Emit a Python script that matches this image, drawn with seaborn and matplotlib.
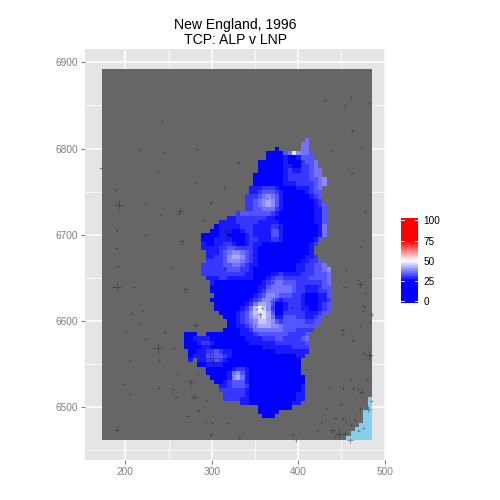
import numpy as np
import matplotlib
matplotlib.use("Agg")
import matplotlib.pyplot as plt
from matplotlib.colors import LinearSegmentedColormap, ListedColormap
from matplotlib.transforms import Affine2D
import seaborn as sns

title = "New England, 1996\nTCP: ALP v LNP"
x_ticks = [200, 300, 400, 500]
x_minor = [250, 350, 450]
y_ticks = [6500, 6600, 6700, 6800, 6900]
y_minor = [6450, 6550, 6650, 6750, 6850]
legend_ticks = [0, 25, 50, 75, 100]

# Swing grid: first column of each row and one digit per 5 km cell, '.' = no data
first_row = 16
row_start = [47, 46, 40, 38, 38, 36, 36, 36, 35, 35, 35, 34, 34, 33, 33, 33, 33, 31, 29, 27, 26, 25,
             23, 23, 23, 23, 24, 24, 24, 23, 23, 23, 24, 25, 25, 25, 26, 25, 26, 26, 27, 28, 29, 29,
             28, 19, 19, 19, 19, 20, 20, 20, 22, 24, 24, 25, 26, 27, 27, 28, 28, 32, 36, 36, 37]
row_cells = [
    "4", "44", "0.....44", "00003485443", "00001001333",
    "00000010002334", "00000011002234", "000000121122344",
    "0000000122222344", "00000001222223345", "00000001112222345",
    "11122210000111234", "11233321000001233",
    "222345431000000123", "223456531000000012",
    "2234565310000000123", "2233444210000000113",
    "233333332100000000113", "11222222211000000000113",
    "1111222221111100000000113", "01111122211112210000000014",
    "001110012211113310000000014", "00001100001211113310000000014",
    "0001111000122111221000000013", "100112210012110000000000012",
    "11112233222210000000000001", "1112345543210000000000001",
    "11223566532100000000000112", "222235554321000000000011223",
    "22222334432110000000001122334", "222222333221000000000011223345",
    "222222222211000011211112223334", "11122111111000123322222233334",
    "1000000000001234433322222234", "0000000000011344444322111233",
    "0000000000012444444322111223", "000000000123554333221000113",
    "0000000001235542122221000112", "000000012466530012221000123",
    "000000124797520012221100123", "0000123578863002222211123",
    "00012356786411333221123", "0012345776532333332233",
    "001123566655433333333", "000011244444443332222",
    "000..000000001112333333322223",
    "00111100000000111122233222234", "00012210000000011111122222223",
    "00001100000000000011111112222", "0011223211000000000011111111",
    "011133332100000000000000011", "1.112232100000000000000000",
    "001111000000000000000000", "0000001221000000000000",
    "0000014531000000000000", "0000156410000000000000",
    "001233310000000000000", "11233320000000000001",
    "22222210000000000001", "2222210000000000011",
    "2222110000000000011", "11000000000011",
    "00000000", "00000", "000",
]

# Sea cells at the south-east corner: row number and first sea column
sea_rows = [76, 77, 78, 79, 80, 81, 82, 83, 84, 85]
sea_start = [62, 62, 62, 61, 61, 61, 60, 59, 58, 57]

# Polling places
town_x = [242.5, 217, 245, 282.6, 171.5, 237.8, 280.3, 314.2, 188.9, 193, 222.8, 298.8, 263.3, 260.6, 241,
          289.9, 190, 223.6, 265.3, 190, 316.9, 317.7, 191.2, 253.7, 190, 209.3, 269.4, 207.4, 219, 216.2,
          281.5, 200.5, 245.6, 223.6, 237.5, 256, 239, 205.4, 259.5, 283.8, 275.7, 197, 238.6, 254.8, 205.4,
          258.3, 279.5, 293.4, 284.1, 272.2, 293.7, 190, 430.7, 461.1, 454.2, 481.6, 462.6, 437.6, 472.4,
          461.9, 477.3, 472.4, 455, 468.9, 471.6, 453.8, 477, 475.8, 474.7, 485.1, 482.8, 471.2, 451.5, 463.4,
          475, 482, 483.1, 451.5, 473.5, 449.6, 471.6, 481.2, 484.6, 479.3, 461.1, 463.1, 452.2, 468.9, 436,
          431.9, 442.3, 452.2, 465.8, 461.1, 455, 469.6, 475.4, 439.5, 447.6, 454.2, 421.8, 426.4, 442.6, 460,
          393.7, 397.2, 300, 317.3, 331.9, 298.8, 371.2, 355.3, 364.3, 301.8, 298, 301.8, 313.4, 301.1, 292.6,
          320, 347.4, 377, 357.8, 352, 350, 393.2, 407.1, 370.1, 424.5, 323.1, 339.7, 274, 293.4, 305.8, 323.1,
          320.3, 363.9, 387.9, 388.6, 376.7, 330.7, 385.9, 326.9, 375.9, 370.1, 371.2, 314.2, 403.3, 330.7]
town_y = [6831.6, 6799.4, 6795.6, 6799.4, 6777.4, 6773.9, 6761.1, 6755, 6751.9, 6734.5, 6735.3, 6737.6, 6727.5,
          6724, 6722.9, 6716.7, 6705.5, 6699.7, 6692.4, 6684.6, 6704, 6695.8, 6663.7, 6661.4, 6639.7, 6639.4,
          6636.7, 6609.2, 6611.5, 6597.6, 6595, 6587.1, 6587.1, 6579, 6568.2, 6568.6, 6554.3, 6554.7, 6538.4,
          6538.4, 6528.8, 6526.8, 6522.5, 6521, 6515.2, 6511.7, 6511.7, 6508, 6496.3, 6489.7, 6482.7, 6473.8,
          6855.9, 6859.4, 6850.1, 6852.8, 6821.1, 6798.3, 6800.6, 6771.6, 6727.2, 6685.7, 6659.1, 6647.5, 6642.5,
          6639.3, 6632.4, 6617.3, 6611.5, 6607.7, 6598.8, 6594.1, 6589.5, 6577.5, 6562.8, 6560.5, 6559.3, 6584.9,
          6517.9, 6503.3, 6498.6, 6497.8, 6507.4, 6532.6, 6532.6, 6521.8, 6521.8, 6521, 6523.7, 6499, 6487.4,
          6487, 6485, 6479.3, 6482.8, 6472.7, 6476.1, 6473.1, 6469.2, 6469.6, 6472.3, 6482.4, 6465.7, 6461.5,
          6468.5, 6461.5, 6481.3, 6481.3, 6465, 6468.5, 6622.8, 6607.7, 6570.9, 6556.6, 6560.4, 6552.7, 6562.4,
          6568.2, 6544.2, 6544.2, 6535, 6511.4, 6614.7, 6613.8, 6594, 6615.8, 6622.8, 6645.5, 6640.5, 6581,
          6570.9, 6573.2, 6574, 6540, 6535.3, 6517.2, 6741.1, 6742.2, 6727.9, 6708.6, 6700.8, 6704.3, 6683.4,
          6686.9, 6677.3, 6655.2, 6661, 6784, 6784]
large = {9: 3, 20: 3, 24: 3, 34: 3, 75: 3, 98: 3, 110: 3, 113: 3,
         12: 2, 18: 2, 26: 2, 30: 2, 40: 2, 46: 2, 51: 2, 64: 2, 78: 2, 81: 2, 97: 2, 103: 2,
         111: 2, 112: 2, 114: 2, 115: 2, 139: 2, 145: 2, 147: 2}
town_votes = [large.get(i, 1) for i in range(len(town_x))]

sns.set_theme(style="darkgrid", rc={
    "axes.facecolor": "#E5E5E5", "grid.color": "white",
    "xtick.color": "#7F7F7F", "ytick.color": "#7F7F7F",
})
plt.rcParams["font.family"] = ["Liberation Sans", "DejaVu Sans"]

n_rows, n_cols = 86, 63
land = np.zeros((n_rows, n_cols))
for r, c in zip(sea_rows, sea_start):
    land[r, c:] = 1

swing = np.full((n_rows, n_cols), np.nan)
for i, (c0, cells) in enumerate(zip(row_start, row_cells)):
    for j, ch in enumerate(cells):
        if ch != ".":
            swing[first_row + i, c0 + j] = 25 + int(ch) * 25 / 9

low, high = -2.5, 102.5
pos = lambda v: (v - low) / (high - low)
cmap = LinearSegmentedColormap.from_list("swing", [
    (0, "blue"), (pos(25), "blue"), (pos(50), "white"), (pos(75), "red"), (1, "red")])

fig = plt.figure(figsize=(5, 5), dpi=100)
ax = fig.add_axes([85 / 500, 40 / 500, 301 / 500, 411.5 / 500])
cax = fig.add_axes([401 / 500, (500 - 303.3) / 500, 17.3 / 500, 85 / 500])

land_tf = Affine2D().scale(4.96, -5).translate(173, 6892) + ax.transData
sns.heatmap(land, ax=ax, cmap=ListedColormap(["#666666", "#87CEEB"]), vmin=0, vmax=1, cbar=False,
            xticklabels=False, yticklabels=False, transform=land_tf)
swing_tf = Affine2D().scale(5, -5).translate(173, 6892) + ax.transData
sns.heatmap(swing, ax=ax, cmap=cmap, vmin=low, vmax=high, cbar=True, cbar_ax=cax,
            cbar_kws={"ticks": legend_ticks}, xticklabels=False, yticklabels=False, transform=swing_tf)
cb = ax.collections[-1].colorbar

sns.scatterplot(x=town_x, y=town_y, size=town_votes, sizes={1: 3, 2: 14, 3: 38}, marker="+",
                color="#202020", alpha=0.45, linewidth=0.7, legend=False, ax=ax, zorder=5)

ax.set_xlim(153.4, 501.6)
ax.set_ylim(6438.7, 6916)
ax.set_xticks(x_ticks)
ax.set_xticklabels([str(v) for v in x_ticks])
ax.set_yticks(y_ticks)
ax.set_yticklabels([str(v) for v in y_ticks])
ax.set_xticks(x_minor, minor=True)
ax.set_yticks(y_minor, minor=True)
ax.set_axisbelow(True)
ax.grid(True, which="major", color="white", linewidth=1.1)
ax.grid(True, which="minor", color="white", linewidth=0.55)
ax.tick_params(which="major", length=3, width=0.8, color="#7F7F7F", labelcolor="#7F7F7F",
               labelsize=7.3, pad=2, bottom=True, left=True)
ax.tick_params(which="minor", length=0)
for side in ax.spines.values():
    side.set_visible(False)
ax.set_xlabel("x", fontsize=8.6, labelpad=5)
ax.set_ylabel("y", fontsize=8.6, labelpad=5)
ax.set_title(title, fontsize=10.1, pad=3.5, color="black", linespacing=1.03)

cb.outline.set_visible(False)
cax.tick_params(length=0, labelsize=7.2, labelcolor="black", pad=3.5)
cax.set_yticks(legend_ticks)
for v in legend_ticks:
    cax.plot([0, 0.2], [v, v], color="white", lw=0.7, transform=cax.get_yaxis_transform())
    cax.plot([0.8, 1], [v, v], color="white", lw=0.7, transform=cax.get_yaxis_transform())
cax.set_ylim(low, high)

fig.savefig("out.png", dpi=100)
